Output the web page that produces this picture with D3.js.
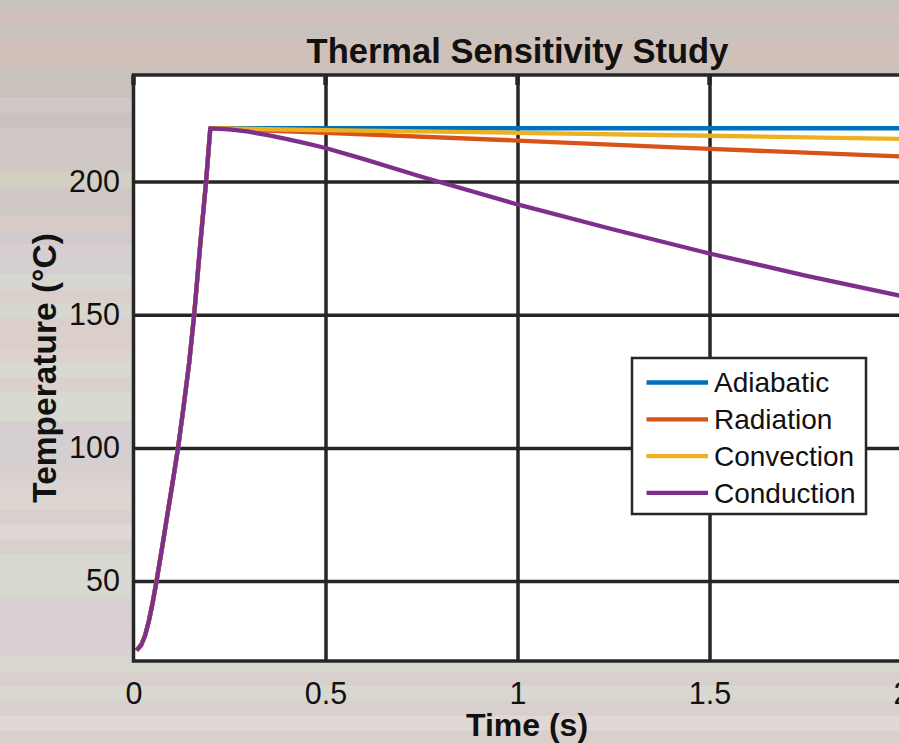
<!DOCTYPE html>
<html>
<head>
    <meta charset="utf-8">
    <title>Thermal Sensitivity Study</title>
    <script src="https://cdn.jsdelivr.net/npm/d3@7"></script>
    <style>
        body { margin: 0; }
        svg { display: block; font-family: "Liberation Sans", Arial, sans-serif; }
    </style>
</head>
<body>
    <svg id="chart"></svg>
    <script>
        // data
        const seriesNames = ["Adiabatic", "Radiation", "Convection", "Conduction"];
        const seriesColors = ["#0072bd", "#d95319", "#edb120", "#7e2f8e"];

        // heating ramp, shared by all four cases
        const riseTime = [0.008, 0.02, 0.03, 0.04, 0.05, 0.06, 0.075, 0.09, 0.103, 0.116, 0.13, 0.145, 0.158, 0.173, 0.189, 0.2];
        const riseTemp = [24, 26, 29.5, 35, 42, 50, 63, 76.5, 88, 100, 115, 132, 150, 175, 200, 220];

        const adiabaticTime = [0.2, 2];
        const adiabaticTemp = [220, 220];
        const radiationTime = [0.2, 0.5, 1, 1.5, 2];
        const radiationTemp = [220, 218.3, 215.4, 212.3, 209.4];
        const convectionTime = [0.2, 0.5, 1, 1.5, 2];
        const convectionTemp = [220, 219.3, 218.3, 217.2, 216];
        const conductionTime = [0.2, 0.25, 0.3, 0.35, 0.4, 0.45, 0.5, 0.6, 0.75, 1, 1.25, 1.5, 1.75, 2];
        const conductionTemp = [220, 219.6, 218.7, 217.4, 215.9, 214.3, 212.6, 208.4, 201.8, 191.4, 182, 173, 164.7, 157];

        const xTicks = [0, 0.5, 1, 1.5, 2];
        const xTickLabels = ["0", "0.5", "1", "1.5", "2"];
        const yTicks = [50, 100, 150, 200];

        // background bands
        const stripeColors = [
            "#c8c1bc", "#cfc1b9", "#c8c1bc", "#cfc1b9", "#cfc1b9", "#c8c1bc", "#c8c1bc", "#d0c8c4",
            "#c9c2bf", "#d0c8c4", "#d0c8c4", "#d0c8c4", "#d3cfc3", "#d0c8c4", "#d0c8c4", "#d8cbc6",
            "#d2cacb", "#d6cfd1", "#d6cfd1", "#d6d7cf", "#dacfcb", "#d6d7cf", "#dacfcb", "#dacfcb",
            "#dbd2cd", "#d8d9d1", "#dbd0cc", "#d8d9d1", "#d8d9d1", "#d6cfd1", "#d6cfd1", "#d6cfd1",
            "#d8d0cc", "#dcd4d0", "#ddd5d0", "#d8d0cc", "#e0d8d4", "#d8d0cc", "#d8d8d0", "#d8d8d0",
            "#d8d8d0", "#d8d0d2", "#d8d0d2", "#d8d0d2", "#d8d0d2", "#d8d8d0", "#d8d0cc", "#d8d8d0",
            "#d8d0cc", "#e0d8d4", "#d8d0cc"
        ];

        const W = 899, H = 743;
        const ink = "#262626";
        const plotL = 133.5, plotR = 901.5, plotT = 75, plotB = 661;

        const svg = d3.select("#chart").attr("width", W).attr("height", H);

        const stripeY = d3.scaleLinear().domain([0, 1]).range([-4.7, 10]);
        svg.append("g").selectAll("rect")
            .data(stripeColors)
            .join("rect")
            .attr("x", 0)
            .attr("y", (d, i) => stripeY(i))
            .attr("width", W)
            .attr("height", stripeY(1) - stripeY(0) + 0.5)
            .attr("fill", d => d);

        const x = d3.scaleLinear().domain([0, 2]).range([plotL, plotR]);
        const y = d3.scaleLinear().domain([20, 240]).range([plotB, plotT]);

        svg.append("rect")
            .attr("x", plotL).attr("y", plotT)
            .attr("width", plotR - plotL).attr("height", plotB - plotT)
            .attr("fill", "#fff");

        // grid
        const gx = svg.append("g")
            .attr("transform", `translate(0,${plotB})`)
            .call(d3.axisBottom(x).tickValues(xTicks.slice(1)).tickSize(-(plotB - plotT)).tickFormat(""));
        const gy = svg.append("g")
            .attr("transform", `translate(${plotL},0)`)
            .call(d3.axisLeft(y).tickValues(yTicks).tickSize(-(plotR - plotL)).tickFormat(""));
        [gx, gy].forEach(g => {
            g.select(".domain").remove();
            g.selectAll("line").attr("stroke", ink).attr("stroke-width", 3.5);
        });

        // small ticks along the top edge
        svg.append("g").selectAll("line")
            .data(xTicks)
            .join("line")
            .attr("x1", d => x(d)).attr("x2", d => x(d))
            .attr("y1", plotT).attr("y2", plotT + 10)
            .attr("stroke", ink).attr("stroke-width", 4.5);

        // series
        const series = [
            [adiabaticTime, adiabaticTemp],
            [radiationTime, radiationTemp],
            [convectionTime, convectionTemp],
            [conductionTime, conductionTemp]
        ].map(([t, v], i) => ({
            name: seriesNames[i],
            color: seriesColors[i],
            pts: riseTime.map((tt, j) => [tt, riseTemp[j]])
                .concat(t.slice(1).map((tt, j) => [tt, v[j + 1]]))
        }));

        const line = d3.line().x(d => x(d[0])).y(d => y(d[1]));

        svg.append("g").selectAll("path")
            .data(series)
            .join("path")
            .attr("d", d => line(d.pts))
            .attr("fill", "none")
            .attr("stroke", d => d.color)
            .attr("stroke-width", 4.3)
            .attr("stroke-linejoin", "round");

        // frame
        svg.append("rect")
            .attr("x", plotL).attr("y", plotT)
            .attr("width", plotR - plotL).attr("height", plotB - plotT)
            .attr("fill", "none")
            .attr("stroke", ink).attr("stroke-width", 3.5);

        // tick labels
        const ax = svg.append("g")
            .attr("transform", `translate(0,${plotB})`)
            .call(d3.axisBottom(x).tickValues(xTicks).tickSize(0).tickPadding(21)
                .tickFormat((d, i) => xTickLabels[i]));
        const ay = svg.append("g")
            .attr("transform", `translate(${plotL},0)`)
            .call(d3.axisLeft(y).tickValues(yTicks).tickSize(0).tickPadding(13.5));
        [ax, ay].forEach(g => {
            g.select(".domain").remove();
            g.selectAll("text")
                .attr("fill", "#111")
                .style("font-size", "30.5px")
                .style("font-family", "'Liberation Sans', Arial, sans-serif");
        });

        svg.append("text")
            .attr("x", (plotL + plotR) / 2).attr("y", 63)
            .attr("text-anchor", "middle")
            .attr("font-weight", "bold").attr("font-size", 34.5)
            .attr("fill", "#111")
            .text("Thermal Sensitivity Study");

        svg.append("text")
            .attr("x", 527).attr("y", 736)
            .attr("text-anchor", "middle")
            .attr("font-weight", "bold").attr("font-size", 32)
            .attr("fill", "#111")
            .text("Time (s)");

        svg.append("text")
            .attr("transform", `translate(56,${(plotT + plotB) / 2}) rotate(-90)`)
            .attr("text-anchor", "middle")
            .attr("font-weight", "bold").attr("font-size", 33.5)
            .attr("fill", "#111")
            .text("Temperature (°C)");

        // legend
        const lg = svg.append("g").attr("transform", "translate(632,358)");
        lg.append("rect")
            .attr("width", 234).attr("height", 156)
            .attr("fill", "#fff")
            .attr("stroke", ink).attr("stroke-width", 2.5);
        const rows = lg.selectAll("g.row")
            .data(series)
            .join("g")
            .attr("class", "row")
            .attr("transform", (d, i) => `translate(0,${24.5 + i * 36.8})`);
        rows.append("line")
            .attr("x1", 14.5).attr("x2", 76)
            .attr("stroke", d => d.color).attr("stroke-width", 4.3);
        rows.append("text")
            .attr("x", 82).attr("dy", "0.35em")
            .attr("font-size", 28)
            .attr("fill", "#111")
            .text(d => d.name);
    </script>
</body>
</html>
